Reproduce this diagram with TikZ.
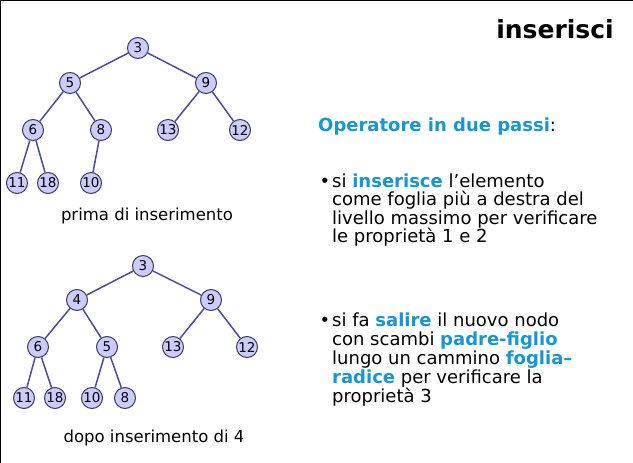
\documentclass[tikz,border=0pt]{standalone}
\usepackage{fontspec}
\setmainfont{DejaVu Sans}
\definecolor{edgeblue}{RGB}{78,76,150}
\definecolor{nodefill}{RGB}{204,204,255}
\definecolor{nodeline}{RGB}{60,60,90}
\definecolor{hl}{RGB}{25,150,210}
\newcommand{\kw}[1]{\textcolor{hl}{\textbf{#1}}}
\tikzset{
  hnode/.style={circle, draw=nodeline, fill=nodefill, line width=1pt,
    minimum size=21pt, inner sep=0pt, font=\fontsize{13.5}{13.5}\selectfont},
  hedge/.style={draw=edgeblue, line width=1.5pt},
  caption/.style={font=\fontsize{16.5}{16.5}\selectfont, anchor=base},
  txt/.style={font=\fontsize{18}{18}\selectfont, anchor=base west, inner sep=0pt},
  bul/.style={font=\fontsize{18}{18}\selectfont, anchor=base, inner sep=0pt},
}
\begin{document}
\begin{tikzpicture}[x=1pt,y=-1pt]
\useasboundingbox (0,0) rectangle (633,463);
\fill[white] (0,0) rectangle (633,463);
% frame edges
\draw[black, line width=1.5pt] (0,463) -- (0,0) -- (633,0);

% title
\node[font=\fontsize{25}{25}\selectfont\bfseries, anchor=base] (title) at (555,38) {inserisci};

% heap before insertion
\node[hnode] (a3)  at (138,48) {3};
\node[hnode] (a5)  at (70,83) {5};
\node[hnode] (a9)  at (206,83) {9};
\node[hnode] (a6)  at (33,130) {6};
\node[hnode] (a8)  at (101,130) {8};
\node[hnode] (a13) at (168,130) {13};
\node[hnode] (a12) at (240,130) {12};
\node[hnode] (a11) at (17,183) {11};
\node[hnode] (a18) at (48,183) {18};
\node[hnode] (a10) at (91,183) {10};
\path[hedge] (a3) -- (a5) (a3) -- (a9) (a5) -- (a6) (a5) -- (a8)
  (a9) -- (a13) (a9) -- (a12) (a6) -- (a11) (a6) -- (a18) (a8) -- (a10);
\node[caption] (cap1) at (147,220) {prima di inserimento};

% heap after insertion of 4
\node[hnode] (b3)  at (143,266) {3};
\node[hnode] (b4)  at (77,300) {4};
\node[hnode] (b9)  at (211,300) {9};
\node[hnode] (b6)  at (38,347) {6};
\node[hnode] (b5)  at (107,347) {5};
\node[hnode] (b13) at (173,347) {13};
\node[hnode] (b12) at (247,347) {12};
\node[hnode] (b11) at (24,398) {11};
\node[hnode] (b18) at (55,398) {18};
\node[hnode] (b10) at (92,398) {10};
\node[hnode] (b8)  at (125,398) {8};
\path[hedge] (b3) -- (b4) (b3) -- (b9) (b4) -- (b6) (b4) -- (b5)
  (b9) -- (b13) (b9) -- (b12) (b6) -- (b11) (b6) -- (b18)
  (b5) -- (b10) (b5) -- (b8);
\node[caption] (cap2) at (154,442) {dopo inserimento di 4};

% description
\node[txt] (head) at (318,131) {\kw{Operatore in due passi}:};

\node[bul] (bul1) at (325,187) {•};
\node[txt] (l11) at (332,187) {si \kw{inserisce} l’elemento};
\node[txt] (l12) at (332,205.5) {come foglia più a destra del};
\node[txt] (l13) at (332,224) {livello massimo per verificare};
\node[txt] (l14) at (332,242.5) {le proprietà 1 e 2};

\node[bul] (bul2) at (325,326) {•};
\node[txt] (l21) at (332,326) {si fa \kw{salire} il nuovo nodo};
\node[txt] (l22) at (332,345) {con scambi \kw{padre-figlio}};
\node[txt] (l23) at (332,364) {lungo un cammino \kw{foglia–}};
\node[txt] (l24) at (332,383) {\kw{radice} per verificare la};
\node[txt] (l25) at (332,402) {proprietà 3};
\end{tikzpicture}
\end{document}
